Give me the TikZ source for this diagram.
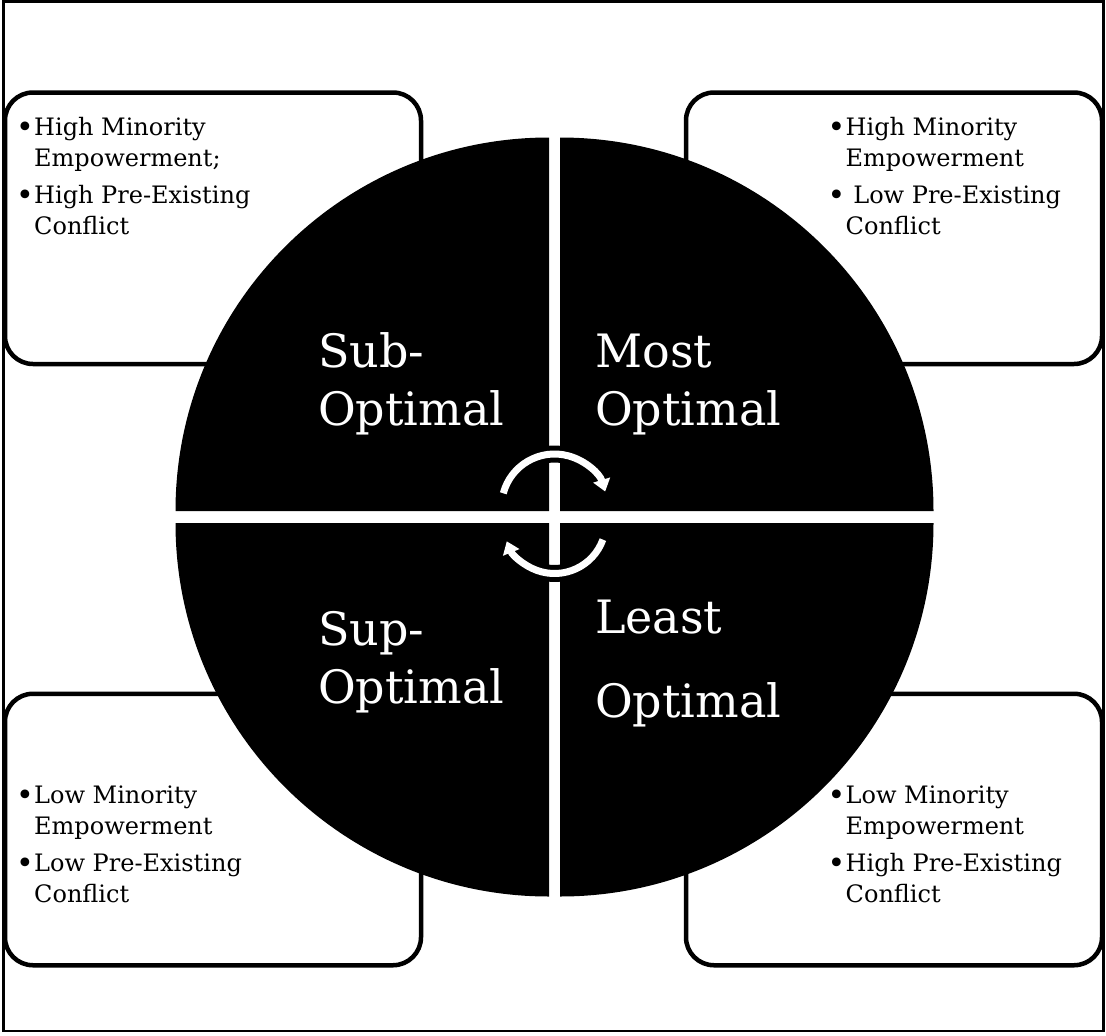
\documentclass[tikz,border=0pt]{standalone}
\usepackage{fontspec}
\setmainfont{DejaVu Serif}
\usetikzlibrary{arrows.meta}

% text sizes for the corner cards and the quadrant labels
\newcommand{\cardfont}{\fontsize{24}{31}\selectfont}
\newcommand{\labelfont}{\fontsize{46}{58}\selectfont}
% a slightly heavier bullet dot
\newcommand{\dotmark}{\raisebox{-2.5pt}{\fontsize{30}{31}\selectfont\textbullet}}
% one bullet item set on two lines with a hanging indent
\newcommand{\bulletitem}[2]{\makebox[17pt][l]{\hspace*{-1pt}\dotmark}#1\\\hspace*{17pt}#2}

\begin{document}
\begin{tikzpicture}[x=1pt,y=-1pt,
  frame/.style={draw=black,line width=2.5pt},
  card/.style={draw=black,fill=white,line width=4.5pt,rounded corners=28pt,
               minimum width=416pt,minimum height=271.5pt,inner sep=0pt},
  quad/.style={fill=black},
  cardtext/.style={inner sep=0pt,anchor=base west,text=black},
  quadtext/.style={inner sep=0pt,anchor=base west,text=white},
  cycleedge/.style={draw=black,line width=17pt},
  cyclearrow/.style={draw=white,line width=7pt,-{Triangle[width=17pt 0,length=12pt 0]}}
]
\useasboundingbox (0,0) rectangle (1106,1036);

% outer frame
\draw[frame] (3.5,1.5) rectangle (1103.5,1031);

% corner cards
\node[card] (tlcard) at (213,228.25) {};
\node[card] (trcard) at (894,228.25) {};
\node[card] (blcard) at (213,829.5) {};
\node[card] (brcard) at (894,829.5) {};

% card texts
\node[cardtext] (tltext) at (17,135) {\parbox[t]{390pt}{\cardfont
  \bulletitem{High Minority}{Empowerment;}\\[6pt]\bulletitem{High Pre-Existing}{Conflict}}};
\node[cardtext] (trtext) at (828.5,135) {\parbox[t]{270pt}{\cardfont
  \bulletitem{High Minority}{Empowerment}\\[6pt]\bulletitem{\ Low Pre-Existing}{Conflict}}};
\node[cardtext] (bltext) at (17,803) {\parbox[t]{390pt}{\cardfont
  \bulletitem{Low Minority}{Empowerment}\\[6pt]\bulletitem{Low Pre-Existing}{Conflict}}};
\node[cardtext] (brtext) at (828.5,803) {\parbox[t]{270pt}{\cardfont
  \bulletitem{Low Minority}{Empowerment}\\[6pt]\bulletitem{High Pre-Existing}{Conflict}}};

% the four quadrants of the disc
\fill[quad] (549,511) -- (175.5,511) arc[start angle=180,end angle=270,radius=373.5] -- cycle;
\fill[quad] (560,511) -- (560,137.5) arc[start angle=270,end angle=360,radius=373.5] -- cycle;
\fill[quad] (560,523) -- (933.5,523) arc[start angle=0,end angle=90,radius=373.5] -- cycle;
\fill[quad] (549,523) -- (549,896.5) arc[start angle=90,end angle=180,radius=373.5] -- cycle;

% circular arrows in the middle
\coordinate (topc) at (554.5,507);
\coordinate (botc) at (554.5,522);
\draw[cycleedge] (topc) ++(200:53) arc[start angle=200,end angle=335,radius=53];
\draw[cycleedge] (botc) ++(25:51.5) arc[start angle=25,end angle=150,radius=51.5];
\draw[cyclearrow] (topc) ++(195:53) arc[start angle=195,end angle=343,radius=53];
\draw[cyclearrow] (botc) ++(20:51.5) arc[start angle=20,end angle=158,radius=51.5];

% quadrant labels
\node[quadtext] (subtext) at (318,367) {\parbox[t]{220pt}{\labelfont Sub-\\Optimal}};
\node[quadtext] (mosttext) at (595,367) {\parbox[t]{220pt}{\labelfont Most\\Optimal}};
\node[quadtext] (suptext) at (318,645) {\parbox[t]{220pt}{\labelfont Sup-\\Optimal}};
\node[quadtext] (leasttext) at (595,633) {\parbox[t]{220pt}{\labelfont Least\\[26pt]Optimal}};
\end{tikzpicture}
\end{document}
